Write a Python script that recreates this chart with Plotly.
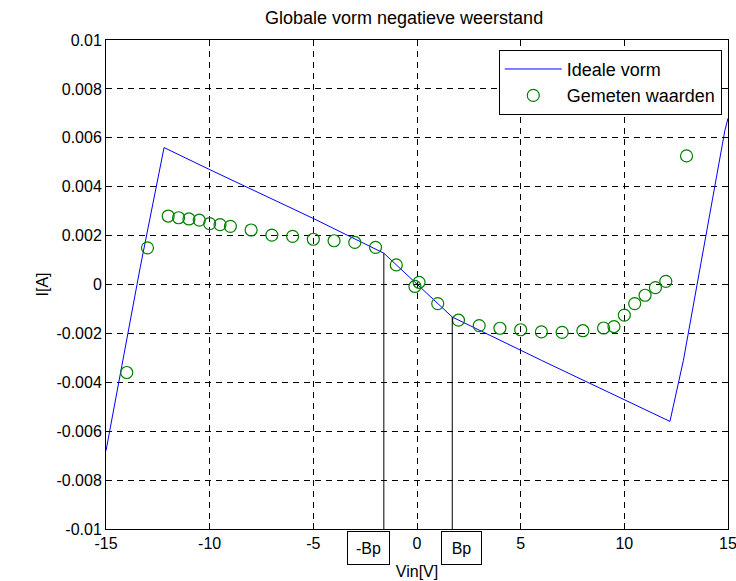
import numpy as np
import plotly.graph_objects as go

# Ideal piecewise characteristic
ideal_x = [-15.0, -14.4, -14.23, -13.35, -12.6, -12.2, -10.0, -5.0, -1.6, 0.0, 1.7, 6.0, 12.2, 12.85, 13.97, 14.85, 15.0]
ideal_y = [-0.0068, -0.0040, -0.0033, 0.0007, 0.0040, 0.0056, 0.0047, 0.0027, 0.00128, 0.0, -0.00133, -0.0031, -0.0056, -0.0031, 0.0022, 0.0063, 0.0068]

# Measured values
meas_x = [-14, -13, -12, -11.5, -11, -10.5, -10, -9.5, -9, -8, -7, -6, -5, -4, -3, -2, -1,
          -0.1, 0.1, 1, 2, 3, 4, 5, 6, 7, 8, 9, 9.5, 10, 10.5, 11, 11.5, 12, 13]
meas_y = [-0.0036, 0.0015, 0.0028, 0.00273, 0.00268, 0.00263, 0.00249, 0.00245, 0.00238,
          0.00223, 0.00202, 0.00197, 0.00185, 0.00179, 0.00172, 0.00152, 0.0008,
          -0.00008, 0.00009, -0.00078, -0.00146, -0.00168, -0.00179, -0.00185, -0.00194,
          -0.00196, -0.00189, -0.00178, -0.00172, -0.00125, -0.00078, -0.00044, -0.00013,
          0.00013, 0.00526]

# Breakpoints
bp_x = [-1.6, 1.7]
bp_labels = ["-Bp", "Bp"]

x_ticks = [-15, -10, -5, 0, 5, 10, 15]
x_ticktext = ["-15", "-10", "-5", "0", "5", "10", "15"]
y_ticks = [-0.01, -0.008, -0.006, -0.004, -0.002, 0, 0.002, 0.004, 0.006, 0.008, 0.01]
y_ticktext = ["-0.01", "-0.008", "-0.006", "-0.004", "-0.002", "0", "0.002", "0.004", "0.006", "0.008", "0.01"]

FONT = "Liberation Sans, Arial, sans-serif"

fig = go.Figure()
fig.add_trace(go.Scatter(x=ideal_x, y=ideal_y, mode="lines", name="Ideale vorm",
                         line=dict(color="#0000ff", width=1)))
fig.add_trace(go.Scatter(x=meas_x, y=meas_y, mode="markers", name="Gemeten waarden",
                         marker=dict(symbol="circle-open", size=12, color="#008000",
                                     line=dict(width=1.2, color="#008000"))))

ymin = y_ticks[0]
for bx in bp_x:
    top = float(np.interp(bx, ideal_x, ideal_y))
    fig.add_shape(type="line", xref="x", yref="y", x0=bx, x1=bx, y0=ymin, y1=top,
                  line=dict(color="#000000", width=1))

fig.add_annotation(x=bp_x[0], y=-0.005, xref="x", yref="paper", xanchor="right", yanchor="top",
                   xshift=6, text=bp_labels[0], showarrow=False, width=41, height=32,
                   bordercolor="#000", borderwidth=1, borderpad=0,
                   font=dict(family=FONT, size=16, color="#000"))
fig.add_annotation(x=bp_x[1], y=-0.005, xref="x", yref="paper", xanchor="center", yanchor="top",
                   xshift=9, text=bp_labels[1], showarrow=False, width=39, height=32,
                   bordercolor="#000", borderwidth=1, borderpad=0,
                   font=dict(family=FONT, size=16, color="#000"))

axis_common = dict(showline=True, linecolor="#000", linewidth=1, mirror="ticks",
                   ticks="inside", ticklen=6, tickcolor="#000", showgrid=True,
                   gridcolor="#000", gridwidth=0.7, griddash="6px,5px", zeroline=False,
                   ticklabeloverflow="allow", automargin=False,
                   tickfont=dict(family=FONT, size=16, color="#000"))

fig.update_xaxes(range=[-15, 15], tickvals=x_ticks, ticktext=x_ticktext,
                 title=dict(text="Vin[V]", standoff=14, font=dict(family=FONT, size=16, color="#000")),
                 **axis_common)
fig.update_yaxes(range=[-0.01, 0.01], tickvals=y_ticks, ticktext=y_ticktext,
                 title=dict(text="I[A]", standoff=3, font=dict(family=FONT, size=16, color="#000")),
                 **axis_common)

fig.update_layout(
    width=736, height=581,
    margin=dict(l=106, r=8, t=40, b=52),
    paper_bgcolor="white", plot_bgcolor="white",
    title=dict(text="Globale vorm negatieve weerstand", x=0.549, xanchor="center",
               y=0.969, yanchor="middle", font=dict(family=FONT, size=18, color="#000")),
    legend=dict(x=0.99, y=0.98, xanchor="right", yanchor="top",
                bordercolor="#000", borderwidth=1, bgcolor="white",
                font=dict(family=FONT, size=18, color="#000"), itemwidth=57),
    showlegend=True,
)

fig.write_html("out.html")
